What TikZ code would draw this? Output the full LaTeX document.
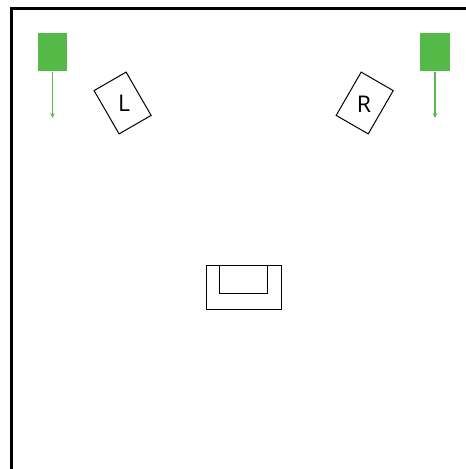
\documentclass[tikz,border=0pt]{standalone}
\usepackage{fontspec}
\setmainfont{Open Sans}
\usepackage{xcolor}
\usetikzlibrary{arrows.meta,positioning}
\definecolor{SubGreen}{HTML}{55B947}
\tikzset{
  sub/.style     = {fill=SubGreen, minimum width=29.5pt, minimum height=38.5pt, inner sep=0pt},
  spk/.style     = {draw=black, line width=1pt, minimum width=37pt, minimum height=50pt, inner sep=0pt},
  spklabel/.style= {font=\fontsize{23}{25}\selectfont, inner sep=0pt},
  seat/.style    = {draw=black, line width=1pt, inner sep=0pt},
  flow/.style    = {-{Stealth[length=5pt,width=4.5pt]}, draw=SubGreen, line width=1.4pt},
  wall/.style    = {draw=black, line width=2.6pt},
}
\begin{document}
\begin{tikzpicture}[x=1pt,y=-1pt]
  \useasboundingbox (0,0) rectangle (466,469);

  \coordinate (wallbottom) at (11.5,469);
  \coordinate (wallcorner) at (11.5,8.2);
  \coordinate (wallright)  at (466,8.2);
  \draw[wall] (wallbottom) -- (wallcorner) -- (wallright);

  \node[sub] (subL) at (52.5,52.2) {};
  \node[sub] (subR) at (435,52.2) {};
  \coordinate (aimL) at (52.5,118);
  \coordinate (aimR) at (435,118);

  \draw[flow] (subL.south) -- (aimL);
  \draw[flow] (subR.south) -- (aimR);

  \node[spk, rotate=30]  (spkL) at (122.6,103) {};
  \node[spk, rotate=-30] (spkR) at (364.7,103) {};
  \node[spklabel] at (124,103.5) {L};
  \node[spklabel] at (364,104) {R};

  \node[seat, minimum width=75pt, minimum height=44pt] (couch) at (243.5,287.7) {};
  \node[seat, minimum width=47.3pt, minimum height=27.6pt, anchor=north] (cushion) at (couch.north) {};

\end{tikzpicture}
\end{document}
